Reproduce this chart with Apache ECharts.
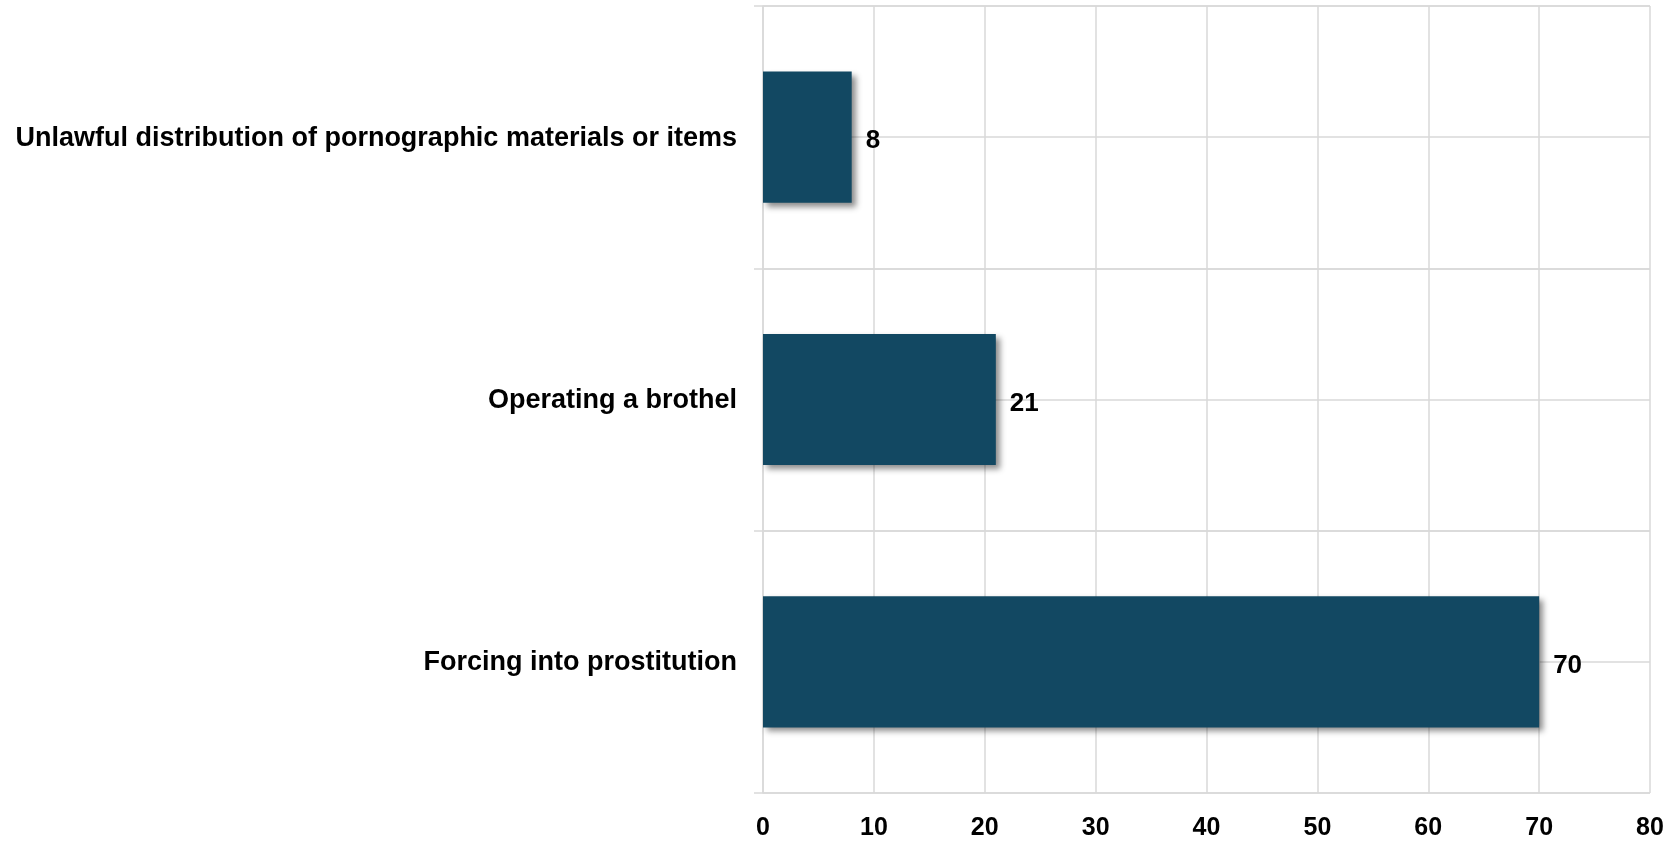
<!DOCTYPE html>
<html><head><meta charset="utf-8">
<script src="https://cdn.jsdelivr.net/npm/echarts@6/dist/echarts.min.js"></script>
<style>html,body{margin:0;padding:0;background:#fff}#c{width:1678px;height:841px}</style>
</head><body><div id="c"></div>
<script>
var categories = ["Forcing into prostitution", "Operating a brothel", "Unlawful distribution of pornographic materials or items"];
var values = [70, 21, 8];
var xTicks = [0, 10, 20, 30, 40, 50, 60, 70, 80];

var font = "'Liberation Sans', Arial, sans-serif";
var grid = '#d9d9d9';
var chart = echarts.init(document.getElementById('c'));
chart.setOption({
  animation: false,
  grid: {left: 763, right: 28, top: 6, bottom: 48, containLabel: false},
  xAxis: {
    type: 'value', min: xTicks[0], max: xTicks[xTicks.length - 1], interval: 10,
    axisLine: {show: false}, axisTick: {show: false},
    splitLine: {show: true, lineStyle: {color: grid, width: 1.5}},
    axisLabel: {color: '#000', fontFamily: font, fontWeight: 'bold', fontSize: 25, margin: 23}
  },
  yAxis: [{
    type: 'category', data: categories,
    axisLine: {show: true, lineStyle: {color: grid, width: 1.5}},
    axisTick: {show: true, length: 9, lineStyle: {color: grid, width: 1.5}},
    splitLine: {show: true, lineStyle: {color: grid, width: 1.5}},
    axisLabel: {
      margin: 26,
      formatter: function (v) { return '{a|' + v + '}'; },
      rich: {a: {color: '#000', fontFamily: font, fontWeight: 'bold', fontSize: 27, padding: [2, 0, 0, 0]}}
    }
  }, {
    type: 'value', min: 0, max: 6, interval: 1, position: 'right',
    axisLine: {show: false}, axisTick: {show: false}, axisLabel: {show: false},
    splitLine: {show: true, lineStyle: {color: grid, width: 1.5}}
  }],
  series: [{
    type: 'bar', data: values, yAxisIndex: 0, barCategoryGap: '50%',
    itemStyle: {color: '#124862', shadowColor: 'rgba(0,0,0,0.45)', shadowBlur: 6, shadowOffsetX: 4, shadowOffsetY: 4},
    label: {show: true, position: 'right', distance: 14, offset: [0, 4], color: '#000', fontFamily: font, fontWeight: 'bold', fontSize: 26}
  }]
});
</script></body></html>
